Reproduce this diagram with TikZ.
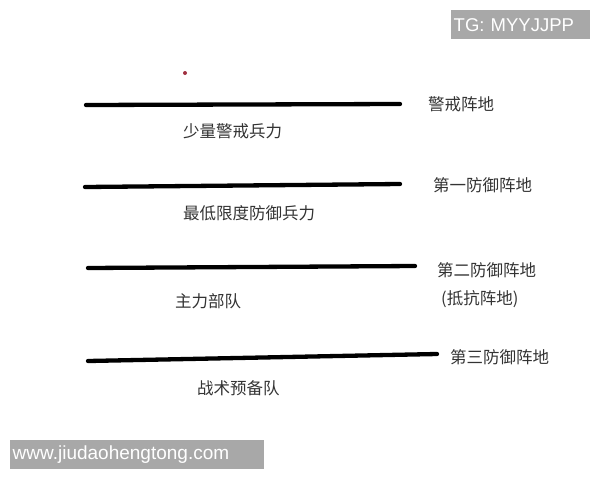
\documentclass[tikz,border=0pt]{standalone}
\usepackage{fontspec}
\setmainfont{Liberation Sans}
\newfontfamily\cjk{Noto Sans CJK SC}
\definecolor{marktext}{HTML}{333333}
\definecolor{markbox}{HTML}{A8A8A8}
\definecolor{dotred}{HTML}{A03040}
\begin{document}
\begin{tikzpicture}[x=1pt,y=-1pt]

      \useasboundingbox (0,0) rectangle (600,480);

      % defence lines
      \begin{scope}[line width=4.3pt,line cap=round]
        \coordinate (l1a) at (86,105);  \coordinate (l1b) at (400,104);
        \coordinate (l2a) at (85,187);  \coordinate (l2b) at (400,184);
        \coordinate (l3a) at (88,268);  \coordinate (l3b) at (415,266);
        \coordinate (l4a) at (88,361);  \coordinate (l4b) at (437,354);
        \draw (l1a) -- (l1b);
        \draw (l2a) -- (l2b);
        \draw (l3a) -- (l3b);
        \draw (l4a) -- (l4b);
      \end{scope}

      \fill[dotred] (185,73) circle (2);

      \begin{scope}[every node/.style={text=marktext,font=\cjk\fontsize{16.5}{20}\selectfont,inner sep=0pt}]
        \node[anchor=west] (p1) at (428,104) {警戒阵地};
        \node[anchor=west] (p2) at (433,185) {第一防御阵地};
        \node[anchor=west] (p3) at (437,270) {第二防御阵地};
        \node[anchor=west] (p3b) at (441,299) {(抵抗阵地)};
        \node[anchor=west] (p4) at (450,357) {第三防御阵地};

        \node[anchor=west] (f1) at (183,131) {少量警戒兵力};
        \node[anchor=west] (f2) at (183,213) {最低限度防御兵力};
        \node[anchor=west] (f3) at (175,301) {主力部队};
        \node[anchor=west] (f4) at (197,388) {战术预备队};
      \end{scope}

      % watermarks
      \begin{scope}[every node/.style={fill=markbox,text=white,inner sep=0pt,anchor=north west}]
        \node[minimum width=139pt,minimum height=29pt,text width=134pt,font=\fontsize{18.5}{20}\selectfont] (tg) at (451,10) {TG: MYYJJPP};
        \node[minimum width=254pt,minimum height=29pt,text width=249pt,font=\fontsize{19}{20}\selectfont] (www) at (10,440) {www.jiudaohengtong.com};
      \end{scope}

    \end{tikzpicture}
\end{document}
